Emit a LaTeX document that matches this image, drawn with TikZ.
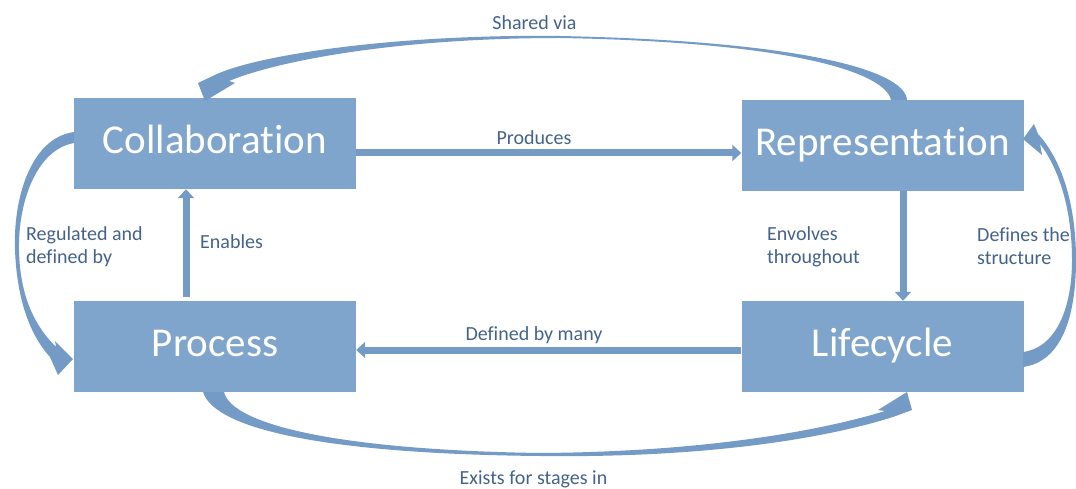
\documentclass[tikz,border=0pt]{standalone}
\usepackage{fontspec}
\setmainfont{Carlito}[Ligatures={NoCommon},RawFeature={-calt;-clig;-dlig}]
\usetikzlibrary{arrows.meta}
\definecolor{boxblue}{RGB}{127,165,204}
\definecolor{arrowblue}{RGB}{116,154,198}
\definecolor{labeltext}{RGB}{68,98,138}
\begin{document}
\begin{tikzpicture}[x=1pt,y=-1pt,
  concept/.style={fill=boxblue, minimum width=282pt, minimum height=91pt, inner sep=0pt,
    text=white, font=\fontsize{41}{45}\selectfont, text height=28pt, text depth=8pt},
  lbl/.style={text=labeltext, font=\fontsize{20}{23}\selectfont, inner sep=0pt, align=left},
  flow/.style={draw=arrowblue, line width=7pt, -{Triangle[length=9pt,width=16pt]}},
  curvedflow/.style={fill=arrowblue}]
\useasboundingbox (0,0) rectangle (1076,489);

% concept boxes
\node[concept] (collab) at (215,143.5) {Collaboration};
\node[concept] (rep)    at (882.5,145.5) {Representa\kern0pt tion};
\node[concept] (proc)   at (215,346.5) {Process};
\node[concept] (life)   at (882.5,346.5) {Lifecycle};

% straight connectors
\draw[flow] ([yshift=-9.5pt]collab.east) -- ([yshift=-7.5pt]rep.west);
\draw[flow] ([yshift=-3.5pt]life.west) -- ([yshift=-3.5pt]proc.east);
\draw[flow, shorten <=4pt] ([xshift=-29pt]proc.north) -- ([xshift=-29pt]collab.south);
\draw[flow] ([xshift=20.5pt]rep.south) -- ([xshift=20.5pt]life.north);

% tapered curved connectors
% Representation -> Collaboration (over the top)
\fill[curvedflow] (907,100) .. controls (905,70) and (800,41) .. (560,36)
  .. controls (400,34) and (262,54) .. (217,74)
  -- (198,83) -- (205,101) -- (235,83) -- (229,81)
  .. controls (280,60) and (400,38) .. (560,38)
  .. controls (790,42) and (885,72) .. (891,100) -- cycle;
% Collaboration -> Process (left side)
\fill[curvedflow] (74,132) .. controls (30,138) and (13,200) .. (15,250)
  .. controls (17,300) and (30,335) .. (50,357)
  -- (58,375) -- (73,359) -- (55,341) -- (56,347)
  .. controls (37,328) and (20,300) .. (19,250)
  .. controls (18,205) and (35,150) .. (74,143) -- cycle;
% Process -> Lifecycle (under the bottom)
\fill[curvedflow] (203,392) .. controls (215,430) and (330,454) .. (540,456)
  .. controls (700,458) and (820,440) .. (893,417)
  -- (912,410) -- (907,392) -- (878,410) -- (885,411)
  .. controls (810,434) and (690,452) .. (540,453)
  .. controls (340,450) and (232,425) .. (224,392) -- cycle;
% Lifecycle -> Representation (right side)
\fill[curvedflow] (1023,367) .. controls (1060,362) and (1076,320) .. (1076,260)
  .. controls (1076,205) and (1062,160) .. (1038,134)
  -- (1034,124) -- (1023,139) -- (1042,155) -- (1040,144)
  .. controls (1060,170) and (1072,212) .. (1072,260)
  .. controls (1072,310) and (1055,348) .. (1023,352) -- cycle;

% connector labels
\node[lbl, anchor=base] (lshared) at (534.5,29.5) {Shared via};
\node[lbl, anchor=base] (lprod) at (534,145) {Produces};
\node[lbl, anchor=base] (ldefmany) at (534,340) {Defined by many};
\node[lbl, anchor=base] (lexists) at (533.5,484) {Exists for stages in};
\node[lbl, anchor=base west] (lenables) at (200,248) {Enables};
\node[lbl, anchor=west] (lreg) at (26,247) {Regulated and\\defined by};
\node[lbl, anchor=west] (lenv) at (767,247) {Envolves\\throughout};
\node[lbl, anchor=west] (ldefs) at (977,246) {Defines the\\structure};
\end{tikzpicture}
\end{document}
